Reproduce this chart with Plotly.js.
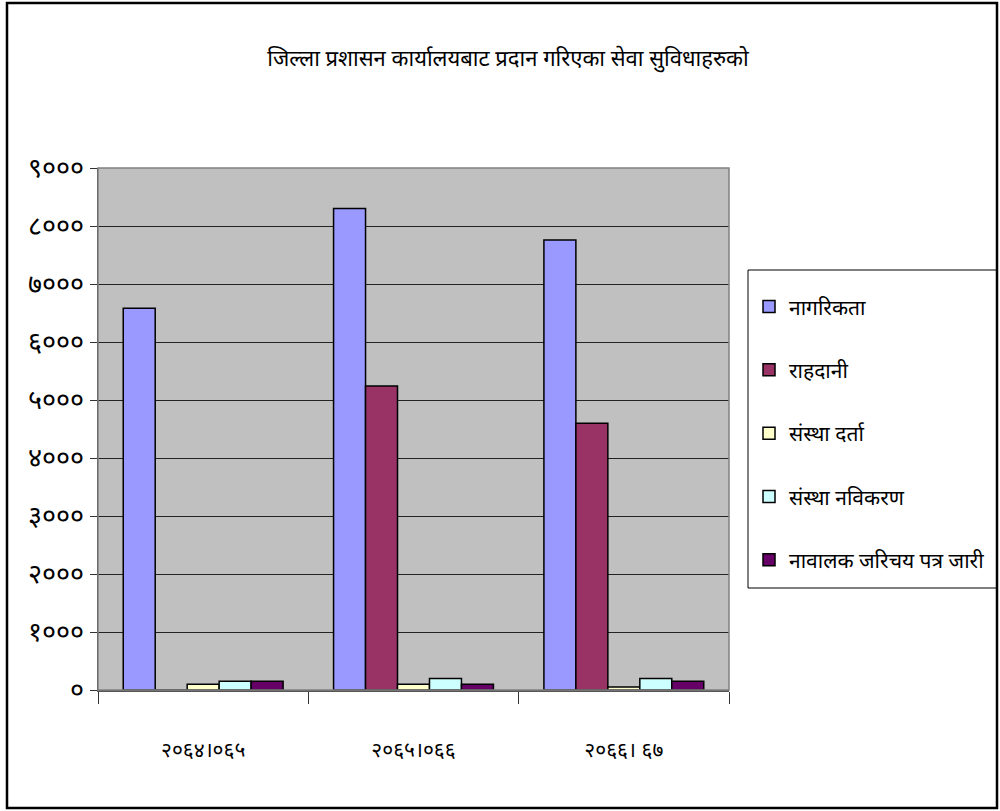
<!DOCTYPE html>
<html>
<head>
<meta charset="utf-8">
<script src="https://cdn.plot.ly/plotly-3.0.1.min.js"></script>
<style>
html,body{margin:0;padding:0;background:#fff;}
#chart{width:1000px;height:811px;}
</style>
</head>
<body>
<div id="chart"></div>
<script>
const categories = ["२०६४।०६५", "२०६५।०६६", "२०६६। ६७"];
const seriesNames = ["नागरिकता", "राहदानी", "संस्था दर्ता", "संस्था नविकरण", "नावालक जरिचय पत्र जारी"];
const nagarikata = [6580, 8300, 7760];
const rahadani = [0, 5240, 4600];
const sansthaDarta = [100, 100, 50];
const sansthaNabikaran = [150, 200, 200];
const nabalak = [150, 100, 150];
const seriesColors = ["#9999ff", "#993366", "#ffffcc", "#ccffff", "#660066"];
const yTickVals = [0, 1000, 2000, 3000, 4000, 5000, 6000, 7000, 8000, 9000];
const yTickText = ["०", "१०००", "२०००", "३०००", "४०००", "५०००", "६०००", "७०००", "८०००", "९०००"];
const titleText = "जिल्ला प्रशासन कार्यालयबाट प्रदान गरिएका सेवा सुविधाहरुको";

const FONT = "'Noto Sans Devanagari', 'Noto Sans', 'DejaVu Sans', sans-serif";
const allValues = [nagarikata, rahadani, sansthaDarta, sansthaNabikaran, nabalak];

const traces = allValues.map((vals, i) => ({
  type: "bar",
  name: seriesNames[i],
  x: categories,
  y: vals,
  legendgroup: "g" + i,
  marker: {color: seriesColors[i], line: {color: "#000", width: 1.5}},
  hoverinfo: "x+y+name"
}));

// margins so plot area spans px x 98..729, y 168..690
const L = 98, R = 1000 - 729, T = 168, B = 811 - 690;
const pw = 1000 - L - R, ph = 811 - T - B;
const px2x = p => (p - L) / pw;
const py2y = p => (811 - B - p) / ph;

const layout = {
  width: 1000, height: 811,
  margin: {l: L, r: R, t: T, b: B, pad: 0, autoexpand: false},
  paper_bgcolor: "#ffffff",
  plot_bgcolor: "#c0c0c0",
  font: {family: FONT, color: "#000"},
  title: {
    text: titleText,
    font: {family: FONT, size: 22, color: "#000"},
    x: 0.508, xanchor: "center",
    y: 1 - 58/811, yanchor: "middle"
  },
  barmode: "group",
  bargap: 0.24,
  bargroupgap: 0,
  showlegend: true,
  legend: {
    x: px2x(749), y: py2y(276), xanchor: "left", yanchor: "top",
    bgcolor: "rgba(0,0,0,0)", borderwidth: 0,
    font: {family: FONT, size: 21, color: "#000"},
    title: {text: " ", font: {size: 8}},
    traceorder: "grouped", tracegroupgap: 33,
    itemwidth: 30
  },
  xaxis: {
    type: "category",
    showgrid: false,
    showline: true, linecolor: "#555", linewidth: 2,
    ticks: "outside", ticklen: 12, tickcolor: "#333", tickwidth: 1,
    tickson: "boundaries",
    ticklabelstandoff: 40,
    tickfont: {family: FONT, size: 21, color: "#000"},
    fixedrange: true
  },
  yaxis: {
    range: [0, 9000],
    tickvals: yTickVals, ticktext: yTickText,
    showgrid: true, gridcolor: "#222", gridwidth: 1,
    zeroline: false,
    showline: true, linecolor: "#333", linewidth: 1.5,
    ticks: "outside", ticklen: 7, tickcolor: "#333",
    tickfont: {family: FONT, size: 27, color: "#000"},
    fixedrange: true
  },
  shapes: [
    {type: "rect", xref: "paper", yref: "paper", x0: 0, x1: 1, y0: 0, y1: 1,
     line: {color: "#808080", width: 1.5}, fillcolor: "rgba(0,0,0,0)", layer: "above"},
    {type: "rect", xref: "paper", yref: "paper",
     x0: px2x(748), x1: px2x(997), y0: py2y(588), y1: py2y(270),
     line: {color: "#000", width: 1}, fillcolor: "#ffffff", layer: "below"},
    {type: "rect", xref: "paper", yref: "paper",
     x0: px2x(7), x1: px2x(997), y0: py2y(808), y1: py2y(3),
     line: {color: "#000", width: 2.5}, fillcolor: "rgba(0,0,0,0)", layer: "above"}
  ]
};

Plotly.newPlot("chart", traces, layout, {displayModeBar: false, staticPlot: true});
</script>
</body>
</html>
